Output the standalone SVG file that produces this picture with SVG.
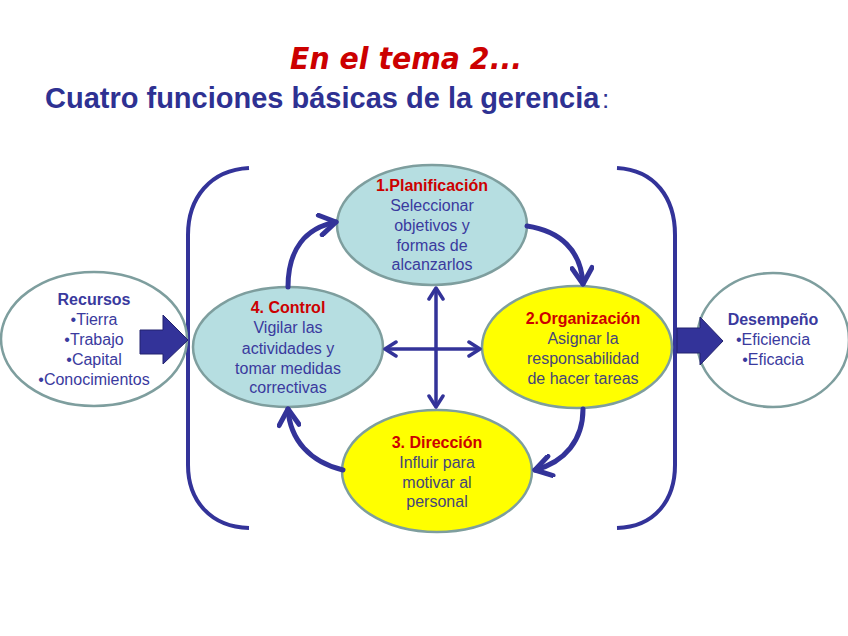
<svg xmlns="http://www.w3.org/2000/svg" width="848" height="636" viewBox="0 0 848 636">
<defs>
<style>
.t{font-family:"Liberation Sans",Arial,sans-serif;font-size:16px;text-anchor:middle}
.h{font-weight:bold;fill:#CC0000}
.b{fill:#3A3A9E}
.y{fill:#45457A}
.rh{font-weight:bold;fill:#3A3A9E}
.teal{fill:#B6DEE1;stroke:#7E9E9E;stroke-width:2.5}
.yel{fill:#FFFF00;stroke:#7E9E9E;stroke-width:2.5}
.wht{fill:#FFFFFF;stroke:#7E9E9E;stroke-width:2.5}
.cyc{fill:none;stroke:#333399;stroke-width:5;stroke-linecap:round}
.crs{fill:none;stroke:#333399;stroke-width:3.5}
.brk{fill:none;stroke:#333399;stroke-width:4}
.blk{fill:#333399;stroke:#22226E;stroke-width:1}
</style>
<marker id="chev" viewBox="-20 -12 24 24" markerWidth="24" markerHeight="24" refX="0" refY="0" orient="auto" markerUnits="userSpaceOnUse">
<path d="M-16,-10 L0,0 L-16,10" fill="none" stroke="#333399" stroke-width="5" stroke-linecap="round" stroke-linejoin="round"/>
</marker>
<marker id="chs" viewBox="-14 -9 17 18" markerWidth="17" markerHeight="18" refX="0" refY="0" orient="auto-start-reverse" markerUnits="userSpaceOnUse">
<path d="M-11,-7 L0,0 L-11,7" fill="none" stroke="#333399" stroke-width="3.5" stroke-linecap="round" stroke-linejoin="round"/>
</marker>
</defs>
<rect width="848" height="636" fill="#FFFFFF"/>
<g id="title">
<text x="290" y="69" font-family="'DejaVu Sans',Verdana,sans-serif" font-size="30" font-weight="bold" font-style="italic" fill="#CC0000" textLength="232" lengthAdjust="spacingAndGlyphs">En el tema 2...</text>
<text x="45" y="108" font-family="'Liberation Sans',Arial,sans-serif" font-size="29" font-weight="bold" fill="#2E3192">Cuatro funciones básicas de la gerencia</text>
<text x="602" y="108" font-family="'Liberation Sans',Arial,sans-serif" font-size="26" fill="#2E3192">:</text>
</g>
<g id="brackets">
<path class="brk" d="M249,168 C210,170 188,198 188,235 L188,465 C188,500 210,527 249,528"/>
<path class="brk" d="M617,168 C655,170 675,198 675,235 L675,465 C675,500 655,527 617,528"/>
</g>
<g id="recursos">
<ellipse class="wht" cx="94" cy="339" rx="93" ry="67"/>
<text class="t rh" x="94" y="305">Recursos</text>
<text class="t b" x="94" y="325">•Tierra</text>
<text class="t b" x="94" y="345">•Trabajo</text>
<text class="t b" x="94" y="365">•Capital</text>
<text class="t b" x="94" y="385">•Conocimientos</text>
</g>
<g id="desempeno">
<ellipse class="wht" cx="773" cy="340" rx="76" ry="67"/>
<text class="t rh" x="773" y="325">Desempeño</text>
<text class="t b" x="773" y="345">•Eficiencia</text>
<text class="t b" x="773" y="365">•Eficacia</text>
</g>
<g id="planificacion">
<ellipse class="teal" cx="432" cy="225" rx="95" ry="60"/>
<text class="t h" x="432" y="191">1.Planificación</text>
<text class="t b" x="432" y="211">Seleccionar</text>
<text class="t b" x="432" y="231">objetivos y</text>
<text class="t b" x="432" y="251">formas de</text>
<text class="t b" x="432" y="270">alcanzarlos</text>
</g>
<g id="organizacion">
<ellipse class="yel" cx="577" cy="347" rx="95" ry="61"/>
<text class="t h" x="583" y="324">2.Organización</text>
<text class="t y" x="583" y="344">Asignar la</text>
<text class="t y" x="583" y="364">responsabilidad</text>
<text class="t y" x="583" y="384">de hacer tareas</text>
</g>
<g id="control">
<ellipse class="teal" cx="288" cy="347" rx="95" ry="60"/>
<text class="t h" x="288" y="313">4. Control</text>
<text class="t b" x="288" y="333">Vigilar las</text>
<text class="t b" x="288" y="354">actividades y</text>
<text class="t b" x="288" y="374">tomar medidas</text>
<text class="t b" x="288" y="393">correctivas</text>
</g>
<g id="direccion">
<ellipse class="yel" cx="437" cy="471" rx="95" ry="61"/>
<text class="t h" x="437" y="448">3. Dirección</text>
<text class="t y" x="437" y="468">Influir para</text>
<text class="t y" x="437" y="488">motivar al</text>
<text class="t y" x="437" y="507">personal</text>
</g>
<g id="connectors">
<path class="cyc" marker-end="url(#chev)" d="M288,287 C288,250 305,228 336,222"/>
<path class="cyc" marker-end="url(#chev)" d="M527,226 C560,231 581,250 583,284"/>
<path class="cyc" marker-end="url(#chev)" d="M583,409 C583,440 565,462 535,470"/>
<path class="cyc" marker-end="url(#chev)" d="M343,470 C310,462 290,440 288,409"/>
<path class="crs" marker-start="url(#chs)" marker-end="url(#chs)" d="M436,288 L436,407"/>
<path class="crs" marker-start="url(#chs)" marker-end="url(#chs)" d="M385,349 L480,349"/>
<polygon class="blk" points="140,330 163,330 163,315 188,340 163,364 163,354 140,354"/>
<polygon class="blk" points="677,328 700,328 700,317 723,341 700,365 700,353 677,353"/>
</g>
</svg>
